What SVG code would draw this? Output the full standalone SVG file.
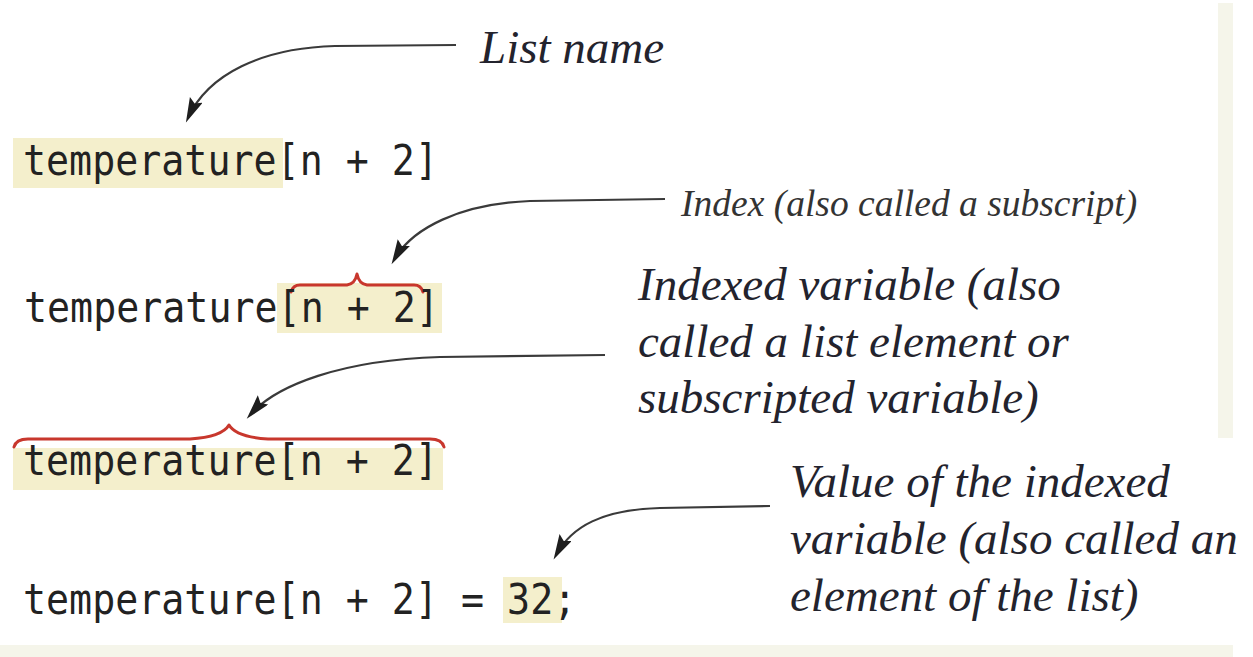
<svg xmlns="http://www.w3.org/2000/svg" width="1253" height="657" viewBox="0 0 1253 657">
  <style>
    .code { font-family: "DejaVu Sans Mono", "Liberation Mono", monospace; font-size: 38.3px; fill: #222; }
    .label { font-family: "Liberation Serif", "Times New Roman", serif; font-style: italic; font-size: 47px; fill: #23232d; }
    .label-sm { font-family: "Liberation Serif", "Times New Roman", serif; font-style: italic; font-size: 37.5px; fill: #333; }
    .hl { fill: #f4efcc; }
    .brace { fill: none; stroke: #c8372d; stroke-width: 3; stroke-linecap: round; stroke-linejoin: round; }
    .conn { fill: none; stroke: #3a3a3a; stroke-width: 2.2; }
  </style>
  <defs>
    <marker id="head" markerUnits="userSpaceOnUse" markerWidth="28" markerHeight="16" refX="20" refY="7" orient="auto">
      <path d="M0,0 L25,7 L0,14 L4,7 z" fill="#1e1e1e"/>
    </marker>
  </defs>

  <rect width="1253" height="657" fill="#ffffff"/>
  <!-- page margin bars -->
  <rect x="1218" y="3" width="15" height="435" fill="#f5f5ea"/>
  <rect x="0" y="645" width="1233" height="12" fill="#f5f5ea"/>

  <!-- line 1: list name highlighted -->
  <g id="line-list-name">
    <rect class="hl" x="13" y="138" width="270" height="50"/>
    <text class="code" transform="translate(23,175) scale(1,1.1)">temperature[n + 2]</text>
  </g>

  <!-- line 2: index highlighted -->
  <g id="line-index">
    <rect class="hl" x="277" y="283" width="165" height="50"/>
    <path class="brace" d="M291,292 Q293,285 300,285 L347,285 Q355,284 357,274 Q359,284 367,285 L414,285 Q421,285 423,292"/>
    <text class="code" transform="translate(24,322) scale(1,1.1)">temperature[n + 2]</text>
  </g>

  <!-- line 3: whole indexed variable highlighted -->
  <g id="line-indexed-variable">
    <rect class="hl" x="13" y="448" width="430" height="42"/>
    <path class="brace" d="M14,447 Q16,439 28,439 L190,439 Q222,437 229,425 Q236,437 268,439 L430,439 Q442,439 444,447"/>
    <text class="code" transform="translate(23,475) scale(1,1.1)">temperature[n + 2]</text>
  </g>

  <!-- line 4: assigned value highlighted -->
  <g id="line-value">
    <rect class="hl" x="503" y="577" width="59" height="46"/>
    <text class="code" transform="translate(23,614) scale(1,1.1)">temperature[n + 2] = 32;</text>
  </g>

  <!-- labels -->
  <g id="label-list-name">
    <text class="label" x="480" y="63">List name</text>
  </g>
  <g id="label-index">
    <text class="label-sm" x="681" y="216">Index (also called a subscript)</text>
  </g>
  <g id="label-indexed-variable">
    <text class="label" x="638" y="300">Indexed variable (also</text>
    <text class="label" x="638" y="357">called a list element or</text>
    <text class="label" x="638" y="413">subscripted variable)</text>
  </g>
  <g id="label-value">
    <text class="label" x="790" y="497">Value of the indexed</text>
    <text class="label" x="790" y="554">variable (also called an</text>
    <text class="label" x="790" y="611">element of the list)</text>
  </g>

  <!-- connectors -->
  <g id="connectors">
    <path class="conn" marker-end="url(#head)" d="M456,45 L335,46 C262,48 208,74 188,118"/>
    <path class="conn" marker-end="url(#head)" d="M665,199 L530,201 C460,204 412,228 394,260"/>
    <path class="conn" marker-end="url(#head)" d="M605,355 L440,357 C342,360 276,385 250,415"/>
    <path class="conn" marker-end="url(#head)" d="M770,506 L660,508 C602,510 572,526 556,555"/>
  </g>
</svg>
